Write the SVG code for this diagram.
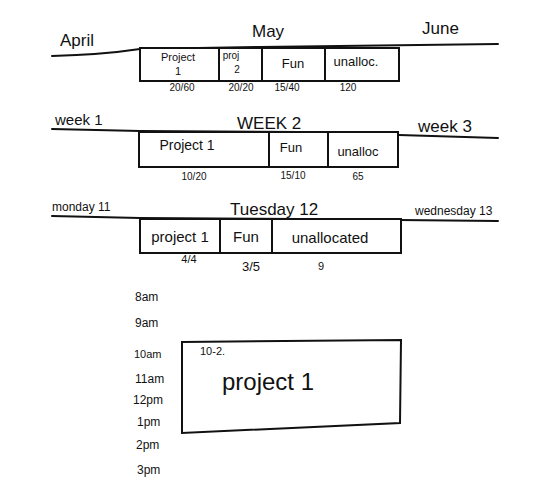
<svg xmlns="http://www.w3.org/2000/svg" width="539" height="500" viewBox="0 0 539 500">
<style>
.ln{fill:none;stroke:#111;stroke-width:2;stroke-linecap:round;stroke-linejoin:round}
.bx{fill:#fff;stroke:#111;stroke-width:2}
.t{font-family:"Liberation Sans",Arial,sans-serif;fill:#111}
.lbl{font-size:17px}
.in{font-size:13px;text-anchor:middle}
.sm{font-size:10px;text-anchor:middle}
.hr{font-size:12px}
</style>
<rect width="539" height="500" fill="#fff"/>
<g id="axes">
<path class="ln" d="M52 56 C90 55 120 52 140 49 L260 47 L498 44"/>
<path class="ln" d="M52 129 L140 131 L300 132 L498 138"/>
<path class="ln" d="M52 216 L140 218 L300 219 L498 221"/>
</g>
<g id="month-labels">
<text class="t lbl" x="60" y="46">April</text>
<text class="t lbl" x="252" y="37">May</text>
<text class="t lbl" x="422" y="34">June</text>
</g>
<g id="month-bar">
<rect class="bx" x="140" y="48" width="259" height="33"/>
<path class="ln" d="M219 48 V80 M262 48 V81 M325 48 V81"/>
<text class="t in" x="178" y="61" style="font-size:11px">Project</text>
<text class="t in" x="178" y="75" style="font-size:11px">1</text>
<text class="t in" x="231" y="59" style="font-size:10px">proj</text>
<text class="t in" x="237" y="73" style="font-size:10px">2</text>
<text class="t in" x="293" y="68">Fun</text>
<text class="t in" x="356" y="66">unalloc.</text>
<text class="t sm" x="182" y="91">20/60</text>
<text class="t sm" x="241" y="91">20/20</text>
<text class="t sm" x="287" y="91">15/40</text>
<text class="t sm" x="348" y="91">120</text>
</g>
<g id="week-labels">
<text class="t lbl" x="55" y="125" style="font-size:15px">week 1</text>
<text class="t lbl" x="237" y="129">WEEK 2</text>
<text class="t lbl" x="418" y="132">week 3</text>
</g>
<g id="week-bar">
<rect class="bx" x="139" y="132" width="259" height="35"/>
<path class="ln" d="M269 132 V166 M328 133 V167"/>
<text class="t in" x="187" y="150" style="font-size:14px">Project 1</text>
<text class="t in" x="291" y="152">Fun</text>
<text class="t in" x="358" y="156">unalloc</text>
<text class="t sm" x="194" y="180">10/20</text>
<text class="t sm" x="293" y="179">15/10</text>
<text class="t sm" x="358" y="180">65</text>
</g>
<g id="day-labels">
<text class="t" x="52" y="211" style="font-size:12px">monday 11</text>
<text class="t lbl" x="230" y="215">Tuesday 12</text>
<text class="t" x="415" y="215" style="font-size:12px">wednesday 13</text>
</g>
<g id="day-bar">
<rect class="bx" x="140" y="219" width="261" height="34"/>
<path class="ln" d="M220 219 V252 M272 219 V253"/>
<text class="t in" x="180" y="242" style="font-size:15px">project 1</text>
<text class="t in" x="246" y="242" style="font-size:15px">Fun</text>
<text class="t in" x="330" y="243" style="font-size:15px">unallocated</text>
<text class="t sm" x="189" y="263" style="font-size:11px">4/4</text>
<text class="t in" x="251" y="271">3/5</text>
<text class="t sm" x="321" y="270" style="font-size:11px">9</text>
</g>
<g id="hours">
<text class="t hr" x="135" y="301">8am</text>
<text class="t hr" x="135" y="327">9am</text>
<text class="t hr" x="134" y="358" style="font-size:11px">10am</text>
<text class="t hr" x="135" y="383">11am</text>
<text class="t hr" x="133" y="404">12pm</text>
<text class="t hr" x="137" y="426">1pm</text>
<text class="t hr" x="136" y="449">2pm</text>
<text class="t hr" x="137" y="474">3pm</text>
</g>
<g id="day-block">
<path class="bx" d="M182 342 L401 340 L400 423 L182 433 Z"/>
<text class="t" x="200" y="355" style="font-size:11px">10-2.</text>
<text class="t" x="222" y="390" style="font-size:24px">project 1</text>
</g>
</svg>
